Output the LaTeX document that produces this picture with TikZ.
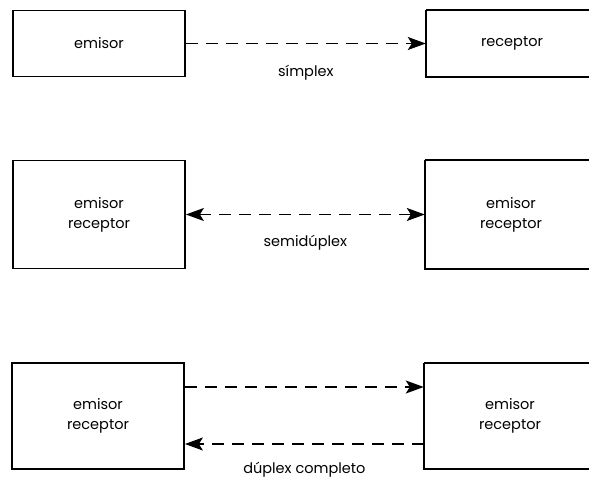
\documentclass[tikz,border=0pt]{standalone}
\usepackage{fontspec}
\setmainfont{Poppins}
\usetikzlibrary{arrows.meta,positioning}

\begin{document}
\begin{tikzpicture}[
    x=1pt, y=1pt,
    font=\fontsize{14.5}{20}\selectfont,
    >={Stealth[length=18pt, width=13pt, inset=4pt]},
    unit/.style={draw, line width=1.8pt, minimum width=172pt, align=center, inner sep=0pt},
    textonly/.style={minimum width=172pt, align=center, inner sep=0pt},
    frame/.style={line width=1.8pt},
    link/.style={line width=1.4pt, dash pattern=on 12pt off 8pt}
]
\useasboundingbox (0,0) rectangle (589,-481);
% simplex
\node[unit, minimum height=66pt] (emi1) at (99,-43.5) {emisor};
\node[textonly, minimum height=66pt] (rec1) at (512,-43.5) {receptor};
\draw[frame] (rec1.north west) -- ++(170,0) (rec1.north west) -- (rec1.south west) -- ++(170,0);
\draw[link, ->] (emi1) -- (rec1) node[midway, yshift=-29pt] (lbl1) {símplex};
% semiduplex
\node[unit, minimum height=108pt] (emi2) at (99,-214.5) {emisor\\ receptor};
\node[textonly, minimum height=108pt] (rec2) at (511,-214.5) {emisor\\ receptor};
\draw[frame] (rec2.north west) -- ++(170,0) (rec2.north west) -- (rec2.south west) -- ++(170,0);
\draw[link, <->] (emi2) -- (rec2) node[midway, yshift=-28pt] (lbl2) {semidúplex};
% duplex completo
\node[unit, minimum height=106pt] (emi3) at (98,-416) {emisor\\ receptor};
\node[textonly, minimum height=106pt] (rec3) at (510,-416) {emisor\\ receptor};
\draw[frame] (rec3.north west) -- ++(170,0) (rec3.north west) -- (rec3.south west) -- ++(170,0);
\draw[link, ->] ([yshift=29pt]emi3.east) -- ([yshift=29pt]rec3.west);
\draw[link, ->] ([yshift=-28pt]rec3.west) -- ([yshift=-28pt]emi3.east) node[midway, yshift=-26pt] (lbl3) {dúplex completo};
\end{tikzpicture}
\end{document}
